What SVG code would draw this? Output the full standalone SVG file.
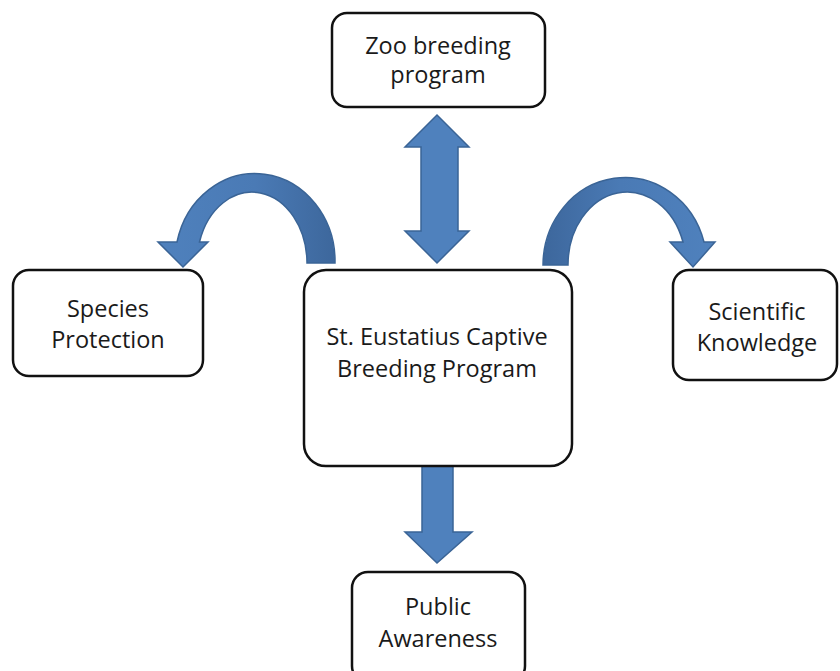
<svg xmlns="http://www.w3.org/2000/svg" width="840" height="671" viewBox="0 0 840 671">
<defs>
<style>
.box{fill:#fff;stroke:#111;stroke-width:2.5}
.t{font-family:"Open Sans","Liberation Sans",sans-serif;font-size:23.5px;fill:#1a1a1a;text-anchor:middle}
.arr{fill:#4f81bd;stroke:#3a6496;stroke-width:1.5;stroke-linejoin:miter}
</style>
<linearGradient id="gl" x1="0" y1="0" x2="1" y2="0">
<stop offset="0" stop-color="#4f81bd"/><stop offset="0.55" stop-color="#4a7ab5"/><stop offset="1" stop-color="#3d679c"/>
</linearGradient>
<linearGradient id="gr" x1="1" y1="0" x2="0" y2="0">
<stop offset="0" stop-color="#4f81bd"/><stop offset="0.55" stop-color="#4a7ab5"/><stop offset="1" stop-color="#3d679c"/>
</linearGradient>
</defs>
<rect width="840" height="671" fill="#fff"/>
<g id="connectors">
<path class="arr" d="M421,147 L405,147 L437,115 L469,147 L458,147 L458,231 L469,231 L437,263 L405,231 L421,231 Z"/>
<path class="arr" d="M422,443 L453,443 L453,532 L472,532 L437,563 L405,532 L422,532 Z"/>
<path class="arr" style="fill:url(#gl)" d="M307,263 L335,263 A80 88 0 0 0 177 242 L158 242 L183 267 L208 242 L199.5 242 A55 71 0 0 1 307 263 Z"/>
<path class="arr" style="fill:url(#gr)" d="M568,265 L543,265 A82 88 0 0 1 704 242 L715 242 L693 267 L670 242 L683 242 A59 73 0 0 0 568 265 Z"/>
</g>
<g id="zoo">
<rect class="box" x="332" y="13" width="213" height="94" rx="15"/>
<text class="t" x="438" y="54">Zoo breeding</text>
<text class="t" x="438" y="83">program</text>
</g>
<g id="center">
<rect class="box" x="304" y="270" width="268" height="196" rx="22"/>
<text class="t" x="437" y="345">St. Eustatius Captive</text>
<text class="t" x="437" y="377">Breeding Program</text>
</g>
<g id="species">
<rect class="box" x="13" y="270" width="190" height="106" rx="16"/>
<text class="t" x="108" y="317">Species</text>
<text class="t" x="108" y="348">Protection</text>
</g>
<g id="scientific">
<rect class="box" x="673" y="270" width="164" height="110" rx="16"/>
<text class="t" x="757" y="320">Scientific</text>
<text class="t" x="757" y="351">Knowledge</text>
</g>
<g id="public">
<rect class="box" x="352" y="572" width="173" height="110" rx="16"/>
<text class="t" x="438" y="615">Public</text>
<text class="t" x="438" y="647">Awareness</text>
</g>
</svg>
